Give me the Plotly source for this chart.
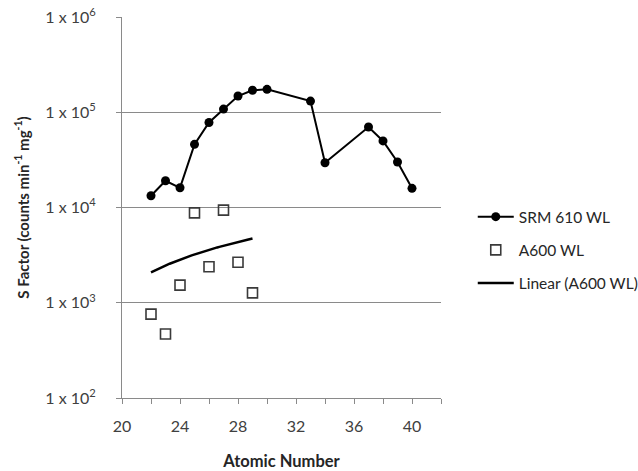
import numpy as np
import plotly.graph_objects as go

# SRM 610 WL sensitivity factors
srm_z = [22, 23, 24, 25, 26, 27, 28, 29, 30, 33, 34, 37, 38, 39, 40]
srm_s = [13300, 19100, 16100, 46000, 78000, 108000, 148000, 170000, 174000,
         131000, 29500, 70000, 50000, 30000, 15900]

# A600 WL sensitivity factors
a600_z = [22, 23, 24, 25, 26, 27, 28, 29]
a600_s = [760, 470, 1530, 8780, 2390, 9380, 2660, 1270]

# Axis ticks
x_ticks = [20, 24, 28, 32, 36, 40]
y_ticks = [1e2, 1e3, 1e4, 1e5, 1e6]
y_ticktext = ["1 x 10<sup>2</sup>", "1 x 10<sup>3</sup>", "1 x 10<sup>4</sup>",
              "1 x 10<sup>5</sup>", "1 x 10<sup>6</sup>"]

# Least-squares linear trendline through the A600 points (in linear space)
slope, intercept = np.polyfit(a600_z, a600_s, 1)
trend_z = np.linspace(min(a600_z), max(a600_z), 50)
trend_s = slope * trend_z + intercept

FONT = "Lato, Carlito, Calibri, sans-serif"
GRID = "#8a8a8a"

fig = go.Figure()
fig.add_trace(go.Scatter(
    x=srm_z, y=srm_s, mode="lines+markers", name="SRM 610 WL",
    line=dict(color="black", width=2),
    marker=dict(symbol="circle", size=9, color="black"),
    legendgroup="a",
))
fig.add_trace(go.Scatter(
    x=a600_z, y=a600_s, mode="markers", name="A600 WL",
    marker=dict(symbol="square-open", size=10, color="#3a3a3a",
                line=dict(width=1.6, color="#3a3a3a")),
    legendgroup="b",
))
fig.add_trace(go.Scatter(
    x=trend_z, y=trend_s, mode="lines", name="Linear (A600 WL)",
    line=dict(color="black", width=2.5),
    legendgroup="c",
))

fig.update_layout(
    width=638, height=471,
    margin=dict(l=122, r=197, t=17, b=73),
    paper_bgcolor="white", plot_bgcolor="white",
    font=dict(family=FONT, size=15, color="#404040"),
    legend=dict(
        xref="container", yref="container",
        x=0.741, y=0.469, xanchor="left", yanchor="middle",
        traceorder="grouped", tracegroupgap=10, itemwidth=36,
        font=dict(family=FONT, size=15.5, color="#262626"),
        bgcolor="rgba(0,0,0,0)",
    ),
    xaxis=dict(
        range=[20, 42], tickmode="array", tickvals=x_ticks,
        automargin=False,
        showgrid=False, zeroline=False,
        showline=True, linecolor=GRID, linewidth=1,
        ticks="outside", ticklen=5, tickcolor=GRID,
        minor=dict(ticks="outside", tick0=20, dtick=2, ticklen=5,
                   tickcolor=GRID, showgrid=False),
        ticklabelstandoff=9,
        tickfont=dict(size=16, color="#404040"),
        title=dict(text="<b>Atomic Number</b>", standoff=23,
                   font=dict(size=16.5, color="#262626")),
    ),
    yaxis=dict(
        type="log", range=[2, 6], tickmode="array",
        tickvals=y_ticks, ticktext=y_ticktext,
        automargin=False,
        showgrid=True, gridcolor=GRID, gridwidth=1,
        zeroline=False, showline=True, linecolor=GRID, linewidth=1,
        ticks="outside", ticklen=5, tickcolor=GRID,
        ticklabelstandoff=17,
        tickfont=dict(size=16, color="#404040"),
        title=dict(text="<b>S Factor (counts min<sup>-1</sup> mg<sup>-1</sup>)</b>",
                   standoff=12, font=dict(size=15, color="#262626")),
    ),
)

fig.write_html("out.html")
